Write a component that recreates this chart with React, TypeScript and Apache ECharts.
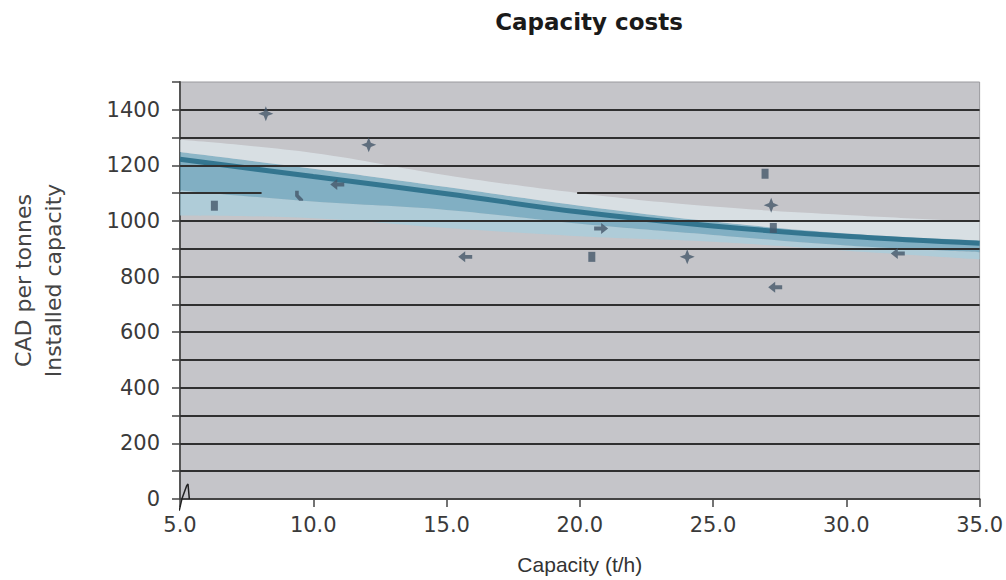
import React, { useEffect, useRef } from "react";
import * as echarts from "echarts";

// ---- data ----
const bandX = ["5", "10", "15", "20", "25", "30", "35"];
const trendCenter = [1222, 1160, 1098, 1032, 982, 945, 920];
const trendUpperOuter = [1292, 1245, 1165, 1100, 1052, 1022, 998];
const trendUpperInner = [1248, 1188, 1122, 1055, 998, 955, 930];
const trendLowerInner = [1110, 1070, 1040, 990, 950, 912, 888];
const trendLowerOuter = [1020, 1010, 975, 945, 925, 893, 862];

const squarePoints = [
  [6.29, 1055],
  [20.45, 871],
  [26.95, 1170],
  [27.26, 975],
];
const starPoints = [
  [8.22, 1386],
  [12.08, 1274],
  [24.03, 871],
  [27.18, 1057],
];
const arrowLeftPoints = [
  [10.9, 1131],
  [15.7, 871],
  [27.33, 762],
  [31.93, 883],
];
const arrowRightPoints = [[20.8, 973]];
const hookPoints = [[9.47, 1091]];

const spikeX = [4.97, 5.07, 5.11, 5.25, 5.3, 5.35];
const spikeY = [-42, 0, 11, 48, 54, 0];

const gridValues = [100, 200, 300, 400, 500, 600, 700, 800, 900, 1000, 1200, 1300, 1400];
const partialGridValue = 1100;
const partialGridSegments = [
  [5, 8.06],
  [19.9, 35],
];

const POINT_COLOR = "#45586a";
const STAR = "path://M5 0 L6.4 3.6 L10 5 L6.4 6.4 L5 10 L3.6 6.4 L0 5 L3.6 3.6 Z";
const ARROW_L = "path://M0 5 L5 0 L5 3.2 L10 3.2 L10 6.8 L5 6.8 L5 10 Z";
const ARROW_R = "path://M10 5 L5 0 L5 3.2 L0 3.2 L0 6.8 L5 6.8 L5 10 Z";
const HOOK = "path://M0 0 L4.5 0 L4.5 4 L10 8.5 L10 10 L5 10 L0 5.5 Z";

const diff = (a: number[], b: number[]) => a.map((v, i) => v - b[i]);

export default function App() {
  const ref = useRef<HTMLDivElement>(null);

  useEffect(() => {
    if (!ref.current) return;
    const chart = echarts.init(ref.current, undefined, { renderer: "svg" });

    const bandBase = {
      type: "line",
      xAxisIndex: 1,
      yAxisIndex: 0,
      stack: "band",
      smooth: 0.4,
      showSymbol: false,
      silent: true,
      z: 2,
      lineStyle: { width: 0, opacity: 0 },
    };

    const markLineData: any[] = gridValues.map((v) => ({ yAxis: v }));
    partialGridSegments.forEach((s) => {
      markLineData.push([{ coord: [s[0], partialGridValue] }, { coord: [s[1], partialGridValue] }]);
    });

    const scatterBase = {
      type: "scatter",
      xAxisIndex: 0,
      yAxisIndex: 0,
      z: 5,
      itemStyle: { color: POINT_COLOR },
    };

    const option: any = {
      animation: false,
      backgroundColor: "#ffffff",
      textStyle: { fontFamily: "DejaVu Sans" },
      grid: {
        left: 180,
        right: 22,
        top: 82,
        bottom: 80,
        show: true,
        backgroundColor: "#c5c5c9",
        borderColor: "#9a9a9e",
        borderWidth: 1,
      },
      graphic: [
        {
          type: "text",
          x: 589,
          y: 22,
          style: {
            text: "Capacity costs",
            fontFamily: "DejaVu Sans",
            fontWeight: "bold",
            fontSize: 23,
            fill: "#1a1a1a",
            textAlign: "center",
            textVerticalAlign: "middle",
          },
        },
      ],
      xAxis: [
        {
          type: "value",
          min: 5,
          max: 35,
          interval: 5,
          name: "Capacity (t/h)",
          nameLocation: "middle",
          nameGap: 55,
          nameTextStyle: { fontFamily: "Liberation Sans", fontSize: 21, color: "#333" },
          axisLine: { show: true, lineStyle: { color: "#444", width: 2 } },
          axisTick: { show: true, length: 8, lineStyle: { color: "#444", width: 1.5 } },
          axisLabel: {
            margin: 15,
            fontSize: 21,
            color: "#3a3a3a",
            fontFamily: "DejaVu Sans",
            formatter: (v: number) => v.toFixed(1),
          },
          splitLine: { show: false },
        },
        {
          type: "category",
          data: bandX,
          boundaryGap: false,
          show: false,
        },
      ],
      yAxis: {
        type: "value",
        min: 0,
        max: 1500,
        interval: 100,
        name: "CAD per tonnes\nInstalled capacity",
        nameLocation: "middle",
        nameGap: 112,
        nameTextStyle: { fontFamily: "DejaVu Sans", fontSize: 22, color: "#444", lineHeight: 30, padding: [0, 0, 0, 20] },
        axisLine: { show: true, lineStyle: { color: "#555", width: 2 } },
        axisTick: { show: true, length: 8, lineStyle: { color: "#444", width: 1.5 } },
        axisLabel: {
          margin: 20,
          fontSize: 21,
          color: "#3a3a3a",
          fontFamily: "DejaVu Sans",
          formatter: (v: number) => (v % 200 === 0 ? String(v) : ""),
        },
        splitLine: { show: false },
      },
      series: [
        { ...bandBase, name: "base", data: trendLowerOuter },
        {
          ...bandBase,
          name: "lowerOuter",
          data: diff(trendLowerInner, trendLowerOuter),
          areaStyle: { color: "rgba(160,208,225,0.88)" },
        },
        {
          ...bandBase,
          name: "lowerInner",
          data: diff(trendCenter, trendLowerInner),
          areaStyle: { color: "rgba(92,164,192,0.92)" },
        },
        {
          ...bandBase,
          name: "upperInner",
          data: diff(trendUpperInner, trendCenter),
          areaStyle: { color: "rgba(104,172,198,0.88)" },
        },
        {
          ...bandBase,
          name: "upperOuter",
          data: diff(trendUpperOuter, trendUpperInner),
          areaStyle: { color: "rgba(226,237,242,0.9)" },
        },
        {
          type: "line",
          name: "trend",
          xAxisIndex: 1,
          yAxisIndex: 0,
          data: trendCenter,
          smooth: 0.4,
          showSymbol: false,
          silent: true,
          z: 3,
          lineStyle: { color: "#2a6f8a", width: 5, opacity: 0.9 },
        },
        {
          type: "line",
          name: "spike",
          xAxisIndex: 0,
          yAxisIndex: 0,
          data: spikeX.map((x, i) => [x, spikeY[i]]),
          showSymbol: false,
          clip: false,
          silent: true,
          z: 4,
          lineStyle: { color: "#222", width: 1.5 },
          markLine: {
            silent: true,
            symbol: ["none", "none"],
            label: { show: false },
            lineStyle: { color: "#303030", width: 2, type: "solid" },
            emphasis: { disabled: true },
            data: markLineData,
          },
        },
        {
          ...scatterBase,
          name: "squares",
          symbol: "rect",
          symbolSize: [7, 10],
          data: squarePoints,
        },
        {
          ...scatterBase,
          name: "stars",
          symbol: STAR,
          symbolSize: 15,
          data: starPoints,
        },
        {
          ...scatterBase,
          name: "arrowsLeft",
          symbol: ARROW_L,
          symbolSize: [14, 11],
          data: arrowLeftPoints,
        },
        {
          ...scatterBase,
          name: "arrowsRight",
          symbol: ARROW_R,
          symbolSize: [14, 11],
          data: arrowRightPoints,
        },
        {
          ...scatterBase,
          name: "hooks",
          symbol: HOOK,
          symbolSize: [8, 10],
          data: hookPoints,
        },
      ],
    };

    chart.setOption(option);
    return () => chart.dispose();
  }, []);

  return (
    <div
      ref={ref}
      style={{ position: "fixed", left: 0, top: 0, width: 1006, height: 580, background: "#fff" }}
    />
  );
}
